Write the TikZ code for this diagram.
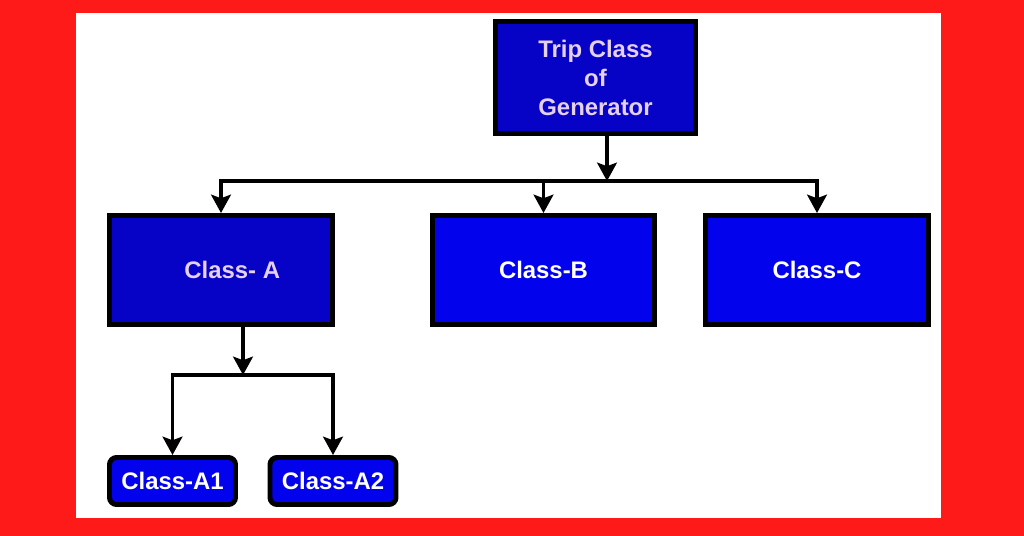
\documentclass[tikz,border=0pt]{standalone}
\usepackage{fontspec}
\setmainfont{Liberation Sans}
\usetikzlibrary{arrows.meta,positioning}
\definecolor{bgred}{RGB}{255,26,26}
\definecolor{deepblue}{RGB}{6,2,198}
\definecolor{brightblue}{RGB}{2,2,236}
\definecolor{paletext}{RGB}{230,208,238}

\begin{document}
\begin{tikzpicture}[x=0.025cm, y=-0.025cm,
  box/.style={draw=black, line width=3.5pt, fill=brightblue, text=white,
    font=\fontsize{17}{20.6}\selectfont\bfseries, align=center, inner sep=0pt},
  darkbox/.style={box, fill=deepblue, text=paletext},
  leafbox/.style={box, rounded corners=5pt, minimum width=3.15cm, minimum height=1.175cm},
  wire/.style={line width=2.8pt, line cap=rect},
  link/.style={line width=2.8pt, -{Stealth[length=13pt, width=14pt, inset=2.5pt]}}]

% red frame and white panel
\fill[bgred] (0,0) rectangle (1024,536);
\fill[white] (76,13) rectangle (941,518);

% boxes
\node[darkbox, minimum width=5cm, minimum height=2.8cm] (trip) at (595.5,77.5) {Trip Class\\of\\Generator};
\node[darkbox, minimum width=5.575cm, minimum height=2.725cm] (classA) at (221,270) {\hspace{16pt}Class- A};
\node[box, minimum width=5.55cm, minimum height=2.725cm] (classB) at (543.5,270) {Class-B};
\node[box, minimum width=5.575cm, minimum height=2.725cm] (classC) at (817,270) {Class-C};
\node[leafbox] (classA1) at (172.5,481) {Class-A1};
\node[leafbox] (classA2) at (333,481) {Class-A2};

% first level
\coordinate (busTop) at (607,181);
\draw[link] (trip.south -| busTop) -- (busTop);
\draw[wire] (classA.north |- busTop) -- (classC.north |- busTop);
\foreach \n in {classA,classB,classC}
  \draw[link] (\n.north |- busTop) -- (\n.north);

% second level
\coordinate (busA) at (243,375);
\draw[link] (classA.south -| busA) -- (busA);
\draw[wire] (classA1.north |- busA) -- (classA2.north |- busA);
\foreach \n in {classA1,classA2}
  \draw[link] (\n.north |- busA) -- (\n.north);

\end{tikzpicture}
\end{document}
